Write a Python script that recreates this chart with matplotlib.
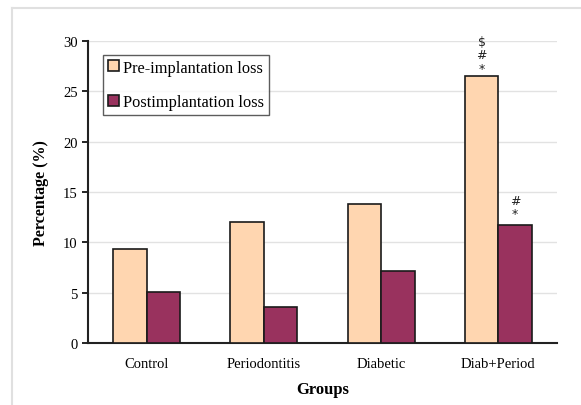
import matplotlib
matplotlib.use("Agg")
import matplotlib.pyplot as plt
import numpy as np
from matplotlib.lines import Line2D

groups = ["Control", "Periodontitis", "Diabetic", "Diab+Period"]
pre_loss = [9.3, 12.0, 13.8, 26.5]
post_loss = [5.1, 3.6, 7.2, 11.7]
pre_marks = ["", "", "", "*\n#\n$"]
post_marks = ["", "", "", "*\n#"]

plt.rcParams["font.family"] = ["Liberation Serif", "DejaVu Serif"]

fig = plt.figure(figsize=(5.81, 4.06), dpi=100)
ax = fig.add_axes([88 / 581, 1 - 344 / 406, (557 - 88) / 581, (344 - 42) / 406])

# light gray frame around the chart
fig.add_artist(Line2D([12 / 581, 1], [1 - 9 / 406] * 2, color="#e0e0e0", lw=1.5))
fig.add_artist(Line2D([12 / 581] * 2, [0, 1 - 9 / 406], color="#e0e0e0", lw=1.5))

x = np.arange(len(groups))
w = 0.285
ax.bar(x - w / 2, pre_loss, w, color="#ffd6b0", edgecolor="#1a1a1a", lw=1.2,
       label="Pre-implantation loss", zorder=3)
ax.bar(x + w / 2, post_loss, w, color="#99325e", edgecolor="#1a1a1a", lw=1.2,
       label="Postimplantation loss", zorder=3)

# significance marks stacked above the bars
for i in range(len(groups)):
    for xs, v, m, off in ((x[i] - w / 2, pre_loss[i], pre_marks[i], 0.15),
                          (x[i] + w / 2, post_loss[i], post_marks[i], 0.5)):
        if m:
            for k, s in enumerate(m.split("\n")):
                ax.text(xs, v + off + k * 1.35, s, ha="center", va="bottom",
                        fontsize=9, family="DejaVu Sans", color="#222222")

ax.set_xlim(-0.5, 3.5)
ax.set_ylim(0, 30)
ax.set_yticks(range(0, 31, 5))
ax.set_xticks(x)
ax.set_xticklabels(groups, fontsize=10.5)
ax.tick_params(axis="y", labelsize=10.5, direction="out", length=4, width=1.2)
ax.tick_params(axis="x", length=0, pad=10)
ax.yaxis.grid(True, color="#e2e2e2", lw=1)
ax.set_axisbelow(True)
for s in ("top", "right"):
    ax.spines[s].set_visible(False)
for s in ("left", "bottom"):
    ax.spines[s].set_linewidth(1.5)
    ax.spines[s].set_color("#222222")

ax.set_ylabel("Percentage (%)", fontsize=11.5, fontweight="bold", labelpad=10)
ax.set_xlabel("Groups", fontsize=12, fontweight="bold", labelpad=8)

leg = ax.legend(loc="upper left", bbox_to_anchor=(0.032, 0.955), fontsize=11.8,
                frameon=True, fancybox=False, edgecolor="#333333",
                handlelength=0.65, handleheight=0.65, handletextpad=0.3,
                borderpad=0.3, labelspacing=1.15, borderaxespad=0)
leg.get_frame().set_linewidth(1.0)

fig.savefig("out.png", dpi=100)
